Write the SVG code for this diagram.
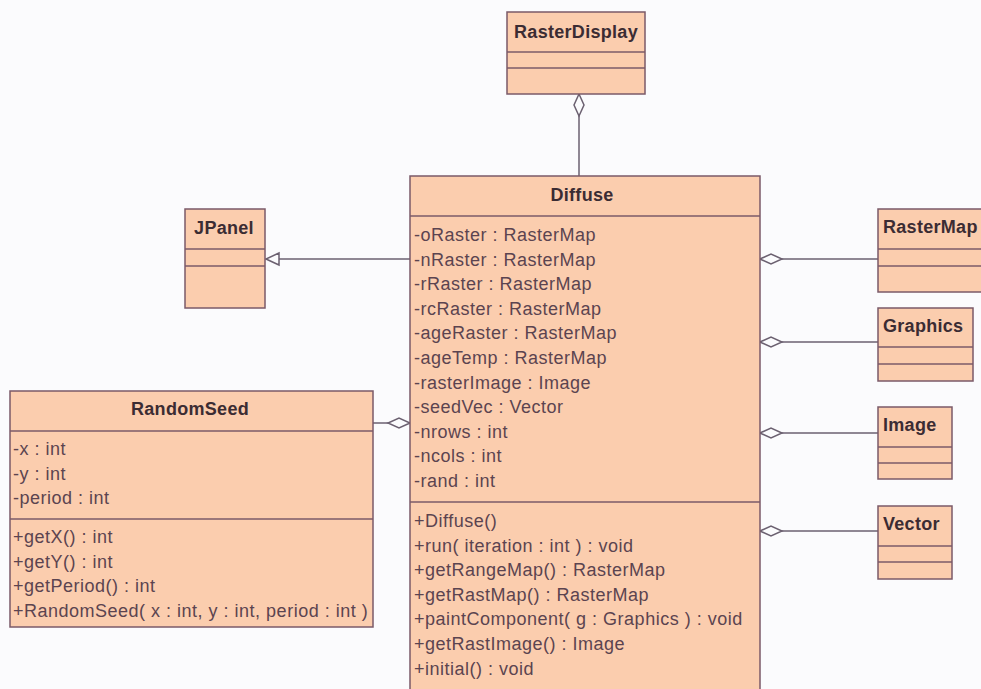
<svg xmlns="http://www.w3.org/2000/svg" width="981" height="689" viewBox="0 0 981 689">
  <style>
    .box { fill: #fbcdae; stroke: #7b5a68; stroke-width: 1.5; }
    .sep { stroke: #7b5a68; stroke-width: 1.5; }
    .name { font-family: "Liberation Sans", Arial, sans-serif; font-size: 18px; font-weight: bold; fill: #3b2c33; letter-spacing: 0.3px; }
    .mem { font-family: "Liberation Sans", Arial, sans-serif; font-size: 18px; fill: #5b4450; letter-spacing: 0.5px; }
    .conn line { stroke: #6b6070; stroke-width: 1.5; fill: none; }
    .head { fill: #fbfbfd; stroke: #6b6070; stroke-width: 1.5; }
  </style>
  <defs>
    <!-- hollow diamond: aggregation end -->
    <marker id="agg" markerUnits="userSpaceOnUse" markerWidth="24" markerHeight="12" refX="0" refY="0" orient="auto" overflow="visible">
      <path class="head" d="M0,0 L11,-5 L22,0 L11,5 Z"/>
    </marker>
    <!-- hollow triangle: generalization end -->
    <marker id="gen" markerUnits="userSpaceOnUse" markerWidth="14" markerHeight="14" refX="0" refY="0" orient="auto" overflow="visible">
      <path class="head" d="M0,0 L-13,-6 L-13,6 Z"/>
    </marker>
  </defs>

  <rect width="981" height="689" fill="#fbfbfd"/>

  <g class="conn">
    <line x1="579" y1="94" x2="579" y2="176" marker-start="url(#agg)"/>
    <line x1="410" y1="259" x2="266" y2="259" marker-end="url(#gen)"/>
    <line x1="410" y1="423" x2="373" y2="423" marker-start="url(#agg)"/>
    <line x1="760" y1="259" x2="878" y2="259" marker-start="url(#agg)"/>
    <line x1="760" y1="342" x2="878" y2="342" marker-start="url(#agg)"/>
    <line x1="760" y1="433" x2="878" y2="433" marker-start="url(#agg)"/>
    <line x1="760" y1="531" x2="878" y2="531" marker-start="url(#agg)"/>
  </g>

  <g id="RasterDisplay">
    <rect class="box" x="507" y="12" width="138" height="82"/>
    <line class="sep" x1="507" y1="52" x2="645" y2="52"/>
    <line class="sep" x1="507" y1="68" x2="645" y2="68"/>
    <text class="name" x="576" y="38" text-anchor="middle">RasterDisplay</text>
  </g>

  <g id="JPanel">
    <rect class="box" x="185" y="209" width="80" height="99"/>
    <line class="sep" x1="185" y1="249" x2="265" y2="249"/>
    <line class="sep" x1="185" y1="266" x2="265" y2="266"/>
    <text class="name" x="224" y="234" text-anchor="middle">JPanel</text>
  </g>

  <g id="Diffuse">
    <rect class="box" x="410" y="176" width="350" height="530"/>
    <line class="sep" x1="410" y1="216" x2="760" y2="216"/>
    <line class="sep" x1="410" y1="502" x2="760" y2="502"/>
    <text class="name" x="582" y="201" text-anchor="middle">Diffuse</text>
    <text class="mem" x="414" y="241">-oRaster : RasterMap</text>
    <text class="mem" x="414" y="265.6">-nRaster : RasterMap</text>
    <text class="mem" x="414" y="290.2">-rRaster : RasterMap</text>
    <text class="mem" x="414" y="314.8">-rcRaster : RasterMap</text>
    <text class="mem" x="414" y="339.4">-ageRaster : RasterMap</text>
    <text class="mem" x="414" y="364">-ageTemp : RasterMap</text>
    <text class="mem" x="414" y="388.6">-rasterImage : Image</text>
    <text class="mem" x="414" y="413.2">-seedVec : Vector</text>
    <text class="mem" x="414" y="437.8">-nrows : int</text>
    <text class="mem" x="414" y="462.4">-ncols : int</text>
    <text class="mem" x="414" y="487">-rand : int</text>
    <text class="mem" x="414" y="527">+Diffuse()</text>
    <text class="mem" x="414" y="551.6">+run( iteration : int ) : void</text>
    <text class="mem" x="414" y="576.2">+getRangeMap() : RasterMap</text>
    <text class="mem" x="414" y="600.8">+getRastMap() : RasterMap</text>
    <text class="mem" x="414" y="625.4">+paintComponent( g : Graphics ) : void</text>
    <text class="mem" x="414" y="650">+getRastImage() : Image</text>
    <text class="mem" x="414" y="674.6">+initial() : void</text>
  </g>

  <g id="RandomSeed">
    <rect class="box" x="10" y="391" width="363" height="236"/>
    <line class="sep" x1="10" y1="431" x2="373" y2="431"/>
    <line class="sep" x1="10" y1="519" x2="373" y2="519"/>
    <text class="name" x="190" y="415" text-anchor="middle">RandomSeed</text>
    <text class="mem" x="13" y="455">-x : int</text>
    <text class="mem" x="13" y="479.6">-y : int</text>
    <text class="mem" x="13" y="504.2">-period : int</text>
    <text class="mem" x="13" y="543">+getX() : int</text>
    <text class="mem" x="13" y="567.6">+getY() : int</text>
    <text class="mem" x="13" y="592.2">+getPeriod() : int</text>
    <text class="mem" x="13" y="616.8">+RandomSeed( x : int, y : int, period : int )</text>
  </g>

  <g id="RasterMap">
    <rect class="box" x="878" y="209" width="120" height="83"/>
    <line class="sep" x1="878" y1="249" x2="998" y2="249"/>
    <line class="sep" x1="878" y1="266" x2="998" y2="266"/>
    <text class="name" x="883" y="233">RasterMap</text>
  </g>

  <g id="Graphics">
    <rect class="box" x="878" y="308" width="95" height="73"/>
    <line class="sep" x1="878" y1="347" x2="973" y2="347"/>
    <line class="sep" x1="878" y1="364" x2="973" y2="364"/>
    <text class="name" x="883" y="332">Graphics</text>
  </g>

  <g id="Image">
    <rect class="box" x="878" y="407" width="74" height="72"/>
    <line class="sep" x1="878" y1="447" x2="952" y2="447"/>
    <line class="sep" x1="878" y1="463" x2="952" y2="463"/>
    <text class="name" x="883" y="431">Image</text>
  </g>

  <g id="Vector">
    <rect class="box" x="878" y="506" width="74" height="73"/>
    <line class="sep" x1="878" y1="546" x2="952" y2="546"/>
    <line class="sep" x1="878" y1="562" x2="952" y2="562"/>
    <text class="name" x="883" y="530">Vector</text>
  </g>
</svg>
